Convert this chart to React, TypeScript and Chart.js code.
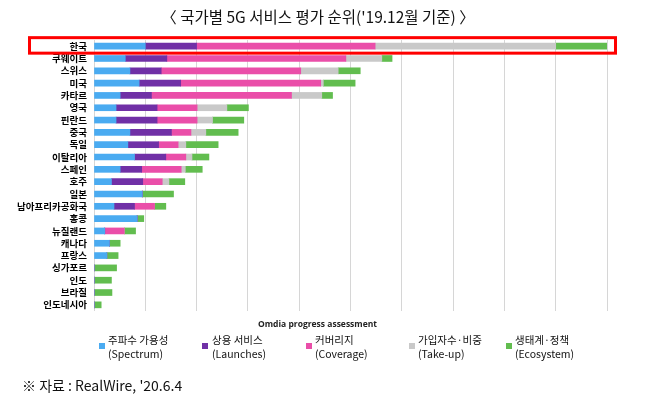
import React, { useEffect, useRef } from "react";
import { Chart, registerables } from "chart.js";

Chart.register(...registerables);

const categories = ["한국", "쿠웨이트", "스위스", "미국", "카타르", "영국", "핀란드", "중국", "독일", "이탈리아", "스페인", "호주", "일본", "남아프리카공화국", "홍콩", "뉴질랜드", "캐나다", "프랑스", "싱가포르", "인도", "브라질", "인도네시아"];
const spectrum = [1.0, 0.61, 0.70, 0.88, 0.51, 0.43, 0.43, 0.70, 0.66, 0.79, 0.51, 0.34, 0.94, 0.39, 0.84, 0.21, 0.30, 0.25, 0, 0, 0, 0];
const launches = [1.0, 0.81, 0.61, 0.81, 0.61, 0.80, 0.80, 0.81, 0.60, 0.61, 0.42, 0.61, 0, 0.40, 0, 0, 0, 0, 0, 0, 0, 0];
const coverage = [3.48, 3.49, 2.72, 2.73, 2.73, 0.78, 0.78, 0.38, 0.38, 0.39, 0.77, 0.38, 0, 0.39, 0, 0.38, 0, 0, 0, 0, 0, 0];
const takeUp = [3.52, 0.70, 0.73, 0.05, 0.59, 0.58, 0.30, 0.29, 0.15, 0.12, 0.08, 0.13, 0, 0, 0, 0, 0, 0, 0, 0, 0, 0];
const ecosystem = [1.0, 0.20, 0.43, 0.62, 0.21, 0.42, 0.61, 0.63, 0.63, 0.33, 0.33, 0.31, 0.61, 0.22, 0.13, 0.22, 0.21, 0.22, 0.44, 0.34, 0.35, 0.14];

const seriesNames = ["주파수 가용성", "상용 서비스", "커버리지", "가입자수·비중", "생태계·정책"];
const seriesNamesEn = ["(Spectrum)", "(Launches)", "(Coverage)", "(Take-up)", "(Ecosystem)"];
const colors = ["#4aabf1", "#7030a6", "#ea4ea9", "#c9c9c9", "#62bd4f"];

const legendPos = [
  { sx: 99, tx: 108 },
  { sx: 202, tx: 212 },
  { sx: 306, tx: 315 },
  { sx: 409, tx: 418 },
  { sx: 506, tx: 515 },
];

const highlightPlugin = {
  id: "highlight",
  afterDraw(chart: any) {
    const { ctx, chartArea, scales } = chart;
    const y0 = scales.y.getPixelForValue(0);
    ctx.save();
    ctx.strokeStyle = "#ff0000";
    ctx.lineWidth = 3;
    ctx.strokeRect(chartArea.left - 64.5, y0 - 8.5, chartArea.right - chartArea.left + 73, 15.5);
    ctx.restore();
  },
};

export default function App() {
  const ref = useRef<HTMLCanvasElement>(null);
  useEffect(() => {
    document.body.style.margin = "0";
    const data = [spectrum, launches, coverage, takeUp, ecosystem];
    const chart = new Chart(ref.current!, {
      type: "bar",
      data: {
        labels: categories,
        datasets: data.map((d, i) => ({
          label: seriesNames[i],
          data: d,
          backgroundColor: colors[i],
          borderWidth: 0,
          barThickness: 6,
        })),
      },
      options: {
        indexAxis: "y",
        animation: false,
        responsive: false,
        maintainAspectRatio: false,
        layout: { padding: { top: 40, bottom: 87, right: 47, left: 0 } },
        plugins: { legend: { display: false }, tooltip: { enabled: false }, title: { display: false } },
        scales: {
          x: {
            stacked: true,
            min: 0,
            max: 10,
            ticks: { display: false, stepSize: 1 },
            grid: { color: "#d6d6d6", drawTicks: false },
            border: { display: false },
            afterFit: (s: any) => { s.height = 0; },
          },
          y: {
            stacked: true,
            ticks: { color: "#000", font: { family: "'Noto Sans CJK KR'", size: 9.5, weight: "bold" }, padding: 7, autoSkip: false },
            grid: { display: false, drawTicks: false },
            border: { display: false },
            afterFit: (s: any) => { s.width = 94; },
          },
        },
      },
      plugins: [highlightPlugin],
    } as any);
    return () => chart.destroy();
  }, []);

  return (
    <div style={{ position: "relative", width: 654, height: 398, background: "#fff", fontFamily: "'Noto Sans CJK KR', sans-serif" }}>
      <canvas ref={ref} width={654} height={398} style={{ position: "absolute", left: 0, top: 0 }} />
      <div style={{ position: "absolute", left: 0, width: 636, top: 5, textAlign: "center", fontSize: 15.5, color: "#111", whiteSpace: "pre" }}>
        {"〈 국가별 5G 서비스 평가 순위('19.12월 기준) 〉"}
      </div>
      <div style={{ position: "absolute", left: 258, top: 318, fontFamily: "'Open Sans', sans-serif", fontWeight: "bold", fontSize: 8.5, color: "#222", whiteSpace: "nowrap" }}>
        Omdia progress assessment
      </div>
      {seriesNames.map((n, i) => (
        <React.Fragment key={n}>
          <div style={{ position: "absolute", left: legendPos[i].sx, top: 343, width: 6, height: 6, background: colors[i] }} />
          <div style={{ position: "absolute", left: legendPos[i].tx, top: 333, fontSize: 10.5, lineHeight: "14px", color: "#111", whiteSpace: "nowrap" }}>
            <div>{n}</div>
            <div>{seriesNamesEn[i]}</div>
          </div>
        </React.Fragment>
      ))}
      <div style={{ position: "absolute", left: 22, top: 375, fontSize: 14, color: "#111", whiteSpace: "pre", fontFamily: "'Noto Sans CJK KR', sans-serif" }}>
        {"※ 자료 : RealWire, '20.6.4"}
      </div>
    </div>
  );
}
